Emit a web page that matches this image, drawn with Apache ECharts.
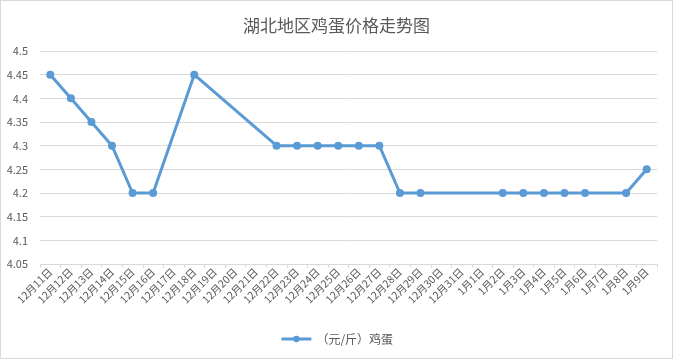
<!DOCTYPE html>
<html><head><meta charset="utf-8">
<script src="https://cdn.jsdelivr.net/npm/echarts@6/dist/echarts.min.js"></script>
<style>html,body{margin:0;padding:0;background:#fff}#c{width:673px;height:359px;box-sizing:border-box;border:1px solid #d9d9d9}</style>
</head><body><div id="c"></div>
<script>
const categories = ['12月11日','12月12日','12月13日','12月14日','12月15日','12月16日','12月17日','12月18日','12月19日','12月20日','12月21日','12月22日','12月23日','12月24日','12月25日','12月26日','12月27日','12月28日','12月29日','12月30日','12月31日','1月1日','1月2日','1月3日','1月4日','1月5日','1月6日','1月7日','1月8日','1月9日'];
const eggPrice = [4.45,4.4,4.35,4.3,4.2,4.2,null,4.45,null,null,null,4.3,4.3,4.3,4.3,4.3,4.3,4.2,4.2,null,null,null,4.2,4.2,4.2,4.2,4.2,null,4.2,4.25];
const seriesName = '（元/斤）鸡蛋';
const titleText = '湖北地区鸡蛋价格走势图';
const chart = echarts.init(document.getElementById('c'));
const font = '"Noto Sans CJK SC", sans-serif';
chart.setOption({
  animation: false,
  title: { text: titleText, left: 'center', top: 11, textStyle: { fontFamily: font, fontSize: 17, fontWeight: 'normal', color: '#595959' } },
  grid: { left: 39, right: 15, top: 50, bottom: 94 },
  legend: { bottom: 8, left: 'center', itemWidth: 30, itemHeight: 8, textStyle: { fontFamily: font, fontSize: 12, color: '#595959' }, itemStyle: { color: '#5B9BD5' }, lineStyle: { width: 3, color: '#5B9BD5' } },
  xAxis: {
    type: 'category', data: categories, boundaryGap: true,
    axisLine: { lineStyle: { color: '#d9d9d9' } },
    axisTick: { show: true, length: 4, lineStyle: { color: '#d9d9d9' } },
    axisLabel: { rotate: 45, interval: 0, fontFamily: font, fontSize: 10.5, color: '#595959', margin: 6 }
  },
  yAxis: {
    type: 'value', min: 4.05, max: 4.5, interval: 0.05,
    axisLine: { show: false }, axisTick: { show: false },
    splitLine: { lineStyle: { color: '#d9d9d9' } },
    axisLabel: { fontFamily: font, fontSize: 11, color: '#595959', margin: 12, formatter: v => String(parseFloat(v.toFixed(2))) }
  },
  series: [{
    name: seriesName, type: 'line', data: eggPrice, connectNulls: true,
    symbol: 'circle', symbolSize: 8,
    lineStyle: { color: '#5B9BD5', width: 3 },
    itemStyle: { color: '#5B9BD5' }
  }]
});
</script></body></html>
